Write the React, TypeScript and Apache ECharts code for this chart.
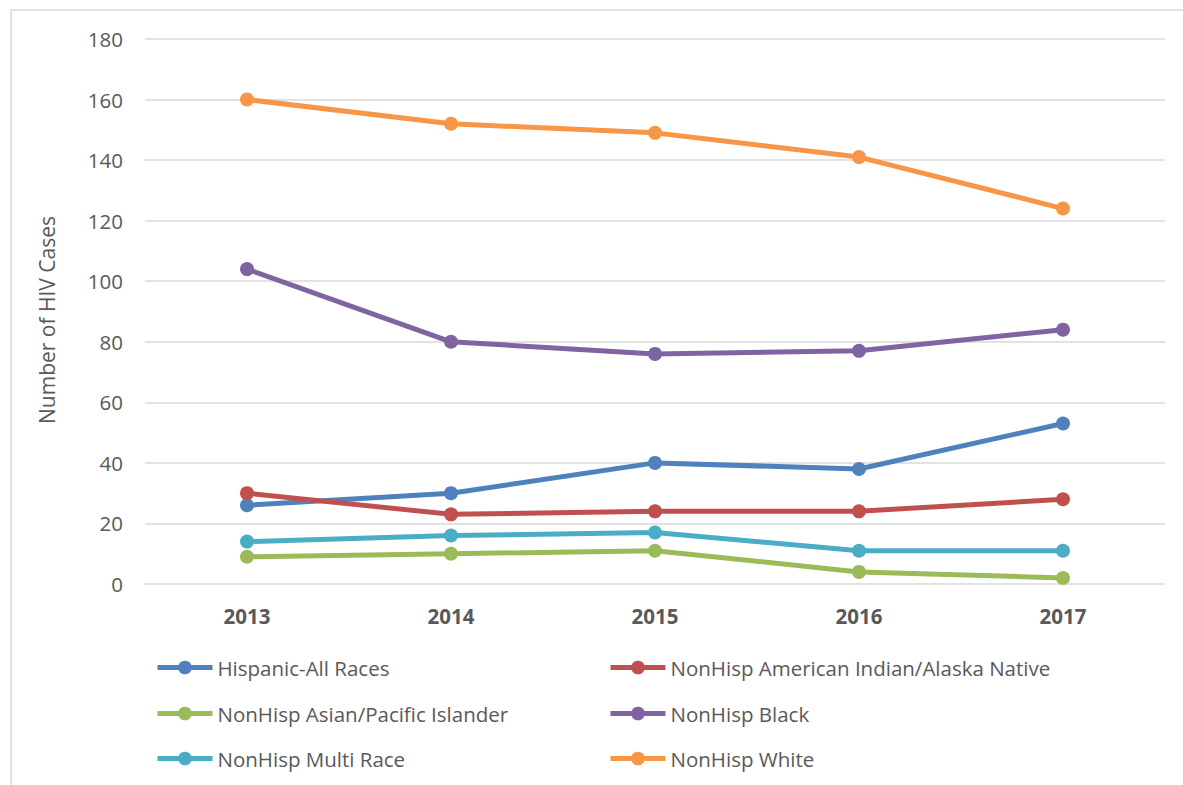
import React, { useEffect, useRef } from "react";
import * as echarts from "echarts";

const years = ["2013", "2014", "2015", "2016", "2017"];
const hispanic = [26, 30, 40, 38, 53];
const aian = [30, 23, 24, 24, 28];
const asian = [9, 10, 11, 4, 2];
const black = [104, 80, 76, 77, 84];
const multi = [14, 16, 17, 11, 11];
const white = [160, 152, 149, 141, 124];
const yTitle = "Number of HIV Cases";

const seriesDefs = [
  { name: "Hispanic-All Races", data: hispanic, color: "#4f81bd" },
  { name: "NonHisp American Indian/Alaska Native", data: aian, color: "#c0504d" },
  { name: "NonHisp Asian/Pacific Islander", data: asian, color: "#9bbb59" },
  { name: "NonHisp Black", data: black, color: "#8064a2" },
  { name: "NonHisp Multi Race", data: multi, color: "#4bacc6" },
  { name: "NonHisp White", data: white, color: "#f79646" },
];

const FONT = "'Open Sans', 'Noto Sans', sans-serif";

export default function App() {
  const ref = useRef<HTMLDivElement>(null);
  useEffect(() => {
    if (!ref.current) return;
    const chart = echarts.init(ref.current, null, { renderer: "svg" });
    const legendPos = [
      { left: 155, top: 657 },
      { left: 608, top: 657 },
      { left: 155, top: 703 },
      { left: 608, top: 703 },
      { left: 155, top: 748 },
      { left: 608, top: 748 },
    ];
    chart.setOption({
      animation: false,
      backgroundColor: "#ffffff",
      textStyle: { fontFamily: FONT },
      graphic: [
        {
          type: "rect",
          shape: { x: 11, y: 10, width: 1200, height: 800 },
          style: { fill: "none", stroke: "#d9d9d9", lineWidth: 1.5 },
          silent: true,
        },
        {
          type: "text",
          x: 47,
          y: 320,
          rotation: Math.PI / 2,
          style: {
            text: yTitle,
            fontFamily: FONT,
            fontSize: 21,
            fill: "#595959",
            align: "center",
            verticalAlign: "middle",
          },
          silent: true,
        },
      ],
      grid: { left: 145, right: 18, top: 39, bottom: 201 },
      legend: seriesDefs.map((s, i) => ({
        data: [s.name],
        left: legendPos[i].left,
        top: legendPos[i].top,
        padding: 0,
        itemWidth: 55,
        itemHeight: 17,
        itemGap: 0,
        selectedMode: false,
        lineStyle: { width: 5 },
        textStyle: { fontFamily: FONT, fontSize: 20.5, color: "#595959" },
      })),
      xAxis: {
        type: "category",
        data: years,
        boundaryGap: true,
        axisLine: { show: false },
        axisTick: { show: false },
        axisLabel: {
          fontFamily: FONT,
          fontSize: 20.5,
          fontWeight: "bold",
          color: "#595959",
          margin: 21,
        },
      },
      yAxis: {
        type: "value",
        min: 0,
        max: 180,
        interval: 20,
        axisLine: { show: false },
        axisTick: { show: false },
        axisLabel: { fontFamily: FONT, fontSize: 20.5, color: "#595959", margin: 22 },
        splitLine: { lineStyle: { color: "#d9d9d9", width: 1.5 } },
      },
      series: seriesDefs.map((s) => ({
        name: s.name,
        type: "line",
        data: s.data,
        symbol: "circle",
        symbolSize: 14,
        color: s.color,
        lineStyle: { width: 5, color: s.color },
        itemStyle: { color: s.color },
      })),
    });
    return () => chart.dispose();
  }, []);
  return (
    <div
      ref={ref}
      style={{ position: "fixed", left: 0, top: 0, width: 1183, height: 785 }}
    />
  );
}
